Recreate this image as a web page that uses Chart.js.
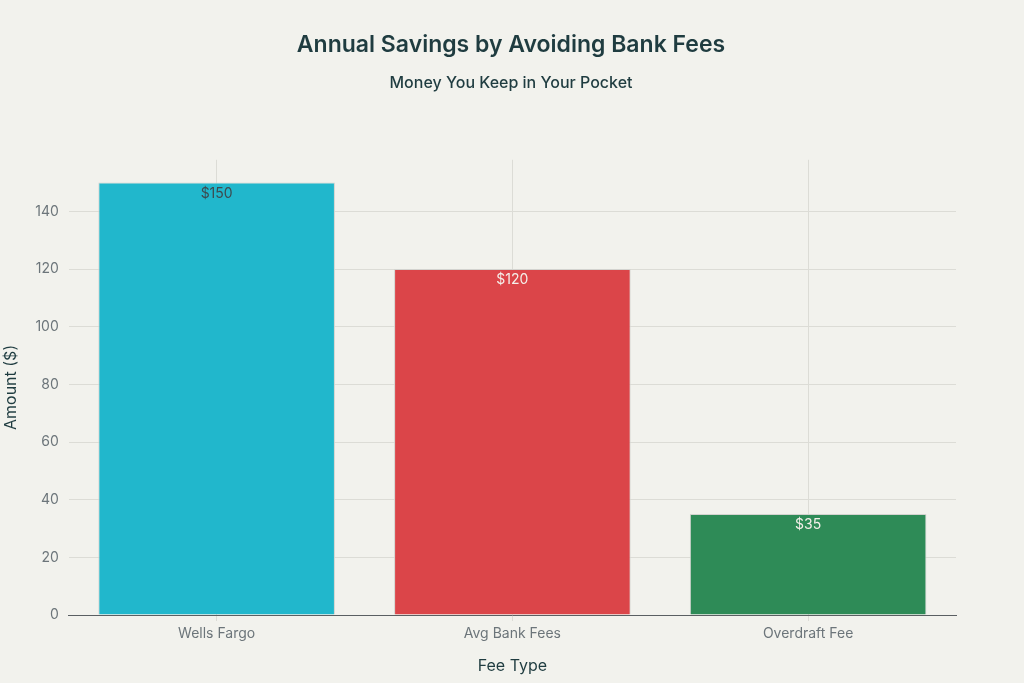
<!DOCTYPE html>
<html lang="en">

<head>
    <meta charset="UTF-8">
    <title>Annual Savings by Avoiding Bank Fees</title>
    <style>
        html, body { margin: 0; padding: 0; background: #f2f2ed; }
        #wrap { width: 1024px; height: 683px; }
    </style>
</head>

<body>
    <script src="https://cdn.jsdelivr.net/npm/chart.js@4/dist/chart.umd.min.js"></script>

    <div id="wrap"><canvas id="chart"></canvas></div>

    <script>
        // data
        const categories = ['Wells Fargo', 'Avg Bank Fees', 'Overdraft Fee']
        const amounts = [150, 120, 35]
        const yTicks = [0, 20, 40, 60, 80, 100, 120, 140]
        const barColors = ['#21b7cc', '#db4549', '#2e8b57']
        const labelColors = ['#3d4a4f', '#f4f0ea', '#f4f0ea']

        const textDark = '#1f3c40'
        const tickGrey = '#6c757a'
        const gridGrey = '#dcdcd6'

        // writes "$value" just inside the top of each bar
        const barLabels = {
            id: 'barLabels',
            afterDatasetsDraw(chart) {
                const ctx = chart.ctx
                const meta = chart.getDatasetMeta(0)
                ctx.save()
                ctx.font = '14px Inter, "Liberation Sans", sans-serif'
                ctx.textAlign = 'center'
                ctx.textBaseline = 'middle'
                meta.data.forEach((bar, i) => {
                    ctx.fillStyle = labelColors[i]
                    ctx.fillText('$' + amounts[i], bar.x, bar.y + 11)
                })
                ctx.restore()
            }
        }

        new Chart(document.getElementById('chart'), {
            type: 'bar',
            data: {
                labels: categories,
                datasets: [{
                    data: amounts,
                    backgroundColor: barColors,
                    borderColor: '#d3d3cf',
                    borderWidth: 1,
                    barPercentage: 0.8,
                    categoryPercentage: 1
                }]
            },
            options: {
                responsive: true,
                maintainAspectRatio: false,
                animation: false,
                layout: { padding: { left: 2, right: 4, top: 0, bottom: 7 } },
                plugins: {
                    legend: { display: false },
                    tooltip: { enabled: false },
                    title: {
                        display: true,
                        text: 'Annual Savings by Avoiding Bank Fees',
                        color: textDark,
                        font: { family: 'Inter', size: 23, weight: '600' },
                        padding: { top: 31, bottom: 15 }
                    },
                    subtitle: {
                        display: true,
                        text: 'Money You Keep in Your Pocket',
                        color: textDark,
                        font: { family: 'Inter', size: 16, weight: '500' },
                        padding: { bottom: 67 }
                    }
                },
                scales: {
                    x: {
                        grid: {
                            offset: false,
                            color: gridGrey,
                            tickColor: gridGrey,
                            tickLength: 6
                        },
                        border: { display: true, color: '#5a5f62', width: 1 },
                        ticks: {
                            color: tickGrey,
                            font: { family: 'Inter', size: 14 },
                            padding: 4
                        },
                        title: {
                            display: true,
                            text: 'Fee Type',
                            color: textDark,
                            font: { family: 'Inter', size: 16 },
                            padding: { top: 11, bottom: 0 }
                        }
                    },
                    y: {
                        min: 0,
                        max: 157.9,
                        afterBuildTicks(axis) {
                            axis.ticks = yTicks.map(v => ({ value: v }))
                        },
                        grid: {
                            color: gridGrey,
                            tickColor: 'rgba(0,0,0,0)',
                            tickLength: 6
                        },
                        border: { display: false },
                        ticks: {
                            color: tickGrey,
                            font: { family: 'Inter', size: 14 },
                            padding: 4
                        },
                        title: {
                            display: true,
                            text: 'Amount ($)',
                            color: textDark,
                            font: { family: 'Inter', size: 16 },
                            padding: { top: 0, bottom: 10 }
                        }
                    },
                    // empty right axis, only keeps the plot off the right edge
                    // so the title stays centred on the page
                    yRight: {
                        position: 'right',
                        display: true,
                        grid: { display: false },
                        border: { display: false },
                        ticks: { display: false },
                        afterFit(axis) { axis.width = 64 }
                    }
                }
            },
            plugins: [barLabels]
        })
    </script>

</body>

</html>
